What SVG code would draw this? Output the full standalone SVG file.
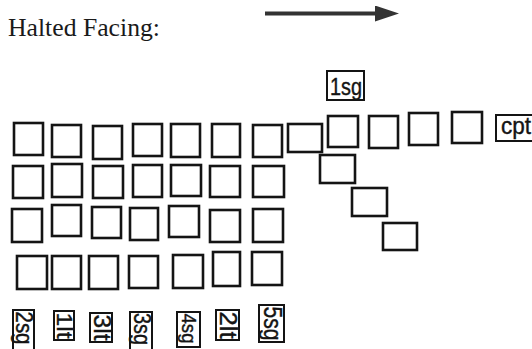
<svg xmlns="http://www.w3.org/2000/svg" width="532" height="349" viewBox="0 0 532 349">
<style>
.b{fill:none;stroke:#141414;stroke-width:2.6}
.l{fill:none;stroke:#141414;stroke-width:2}
.t{font-family:"Liberation Sans",Arial,sans-serif;fill:#141414;stroke:#141414;stroke-width:0.4}
.h{font-family:"Liberation Serif","Times New Roman",serif;font-size:26px;fill:#1a1a1a}
</style>
<defs>
<marker id="ah" markerWidth="6" markerHeight="4" refX="0" refY="2" orient="auto" markerUnits="strokeWidth">
<path d="M0,0 L6,2 L0,4 Z" fill="#333"/>
</marker>
</defs>
<rect width="532" height="349" fill="#fff"/>
<text class="h" x="8" y="36" textLength="152" lengthAdjust="spacingAndGlyphs">Halted Facing:</text>
<g id="connectors">
<line x1="265" y1="13.5" x2="375" y2="13.5" stroke="#333" stroke-width="4" marker-end="url(#ah)"/>
</g>
<g id="row1">
<g id="r1c1"><rect class="b" x="14" y="123" width="29" height="32"/></g>
<g id="r1c2"><rect class="b" x="52" y="125" width="29" height="32"/></g>
<g id="r1c3"><rect class="b" x="93" y="126" width="29" height="33"/></g>
<g id="r1c4"><rect class="b" x="133" y="124" width="29" height="32"/></g>
<g id="r1c5"><rect class="b" x="171" y="124" width="29" height="33"/></g>
<g id="r1c6"><rect class="b" x="212" y="124" width="28" height="33"/></g>
<g id="r1c7"><rect class="b" x="253" y="125" width="29" height="32"/></g>
<g id="r1c8"><rect class="b" x="288" y="124" width="34" height="28"/></g>
<g id="r1c9"><rect class="b" x="328" y="116" width="30" height="31"/></g>
<g id="r1c10"><rect class="b" x="369" y="116" width="29" height="32"/></g>
<g id="r1c11"><rect class="b" x="409" y="113" width="29" height="32"/></g>
<g id="r1c12"><rect class="b" x="452" y="112" width="30" height="31"/></g>
<g id="cpt"><rect class="l" x="496" y="115" width="40" height="26"/><text class="t" x="501" y="134" font-size="24" textLength="30" lengthAdjust="spacingAndGlyphs">cpt</text></g>
</g>
<g id="sg1"><rect class="l" x="327" y="71" width="37" height="29"/><text class="t" x="330" y="95" font-size="24" textLength="32" lengthAdjust="spacingAndGlyphs">1sg</text></g>
<g id="row2">
<g id="r2c1"><rect class="b" x="13" y="166" width="30" height="32"/></g>
<g id="r2c2"><rect class="b" x="52" y="164" width="30" height="33"/></g>
<g id="r2c3"><rect class="b" x="93" y="166" width="30" height="32"/></g>
<g id="r2c4"><rect class="b" x="133" y="165" width="29" height="32"/></g>
<g id="r2c5"><rect class="b" x="171" y="165" width="30" height="31"/></g>
<g id="r2c6"><rect class="b" x="210" y="166" width="30" height="31"/></g>
<g id="r2c7"><rect class="b" x="253" y="166" width="31" height="31"/></g>
</g>
<g id="diagonal">
<g id="d1"><rect class="b" x="320" y="155" width="35" height="28"/></g>
<g id="d2"><rect class="b" x="352" y="188" width="35" height="28"/></g>
<g id="d3"><rect class="b" x="383" y="223" width="34" height="27"/></g>
</g>
<g id="row3">
<g id="r3c1"><rect class="b" x="12" y="209" width="30" height="33"/></g>
<g id="r3c2"><rect class="b" x="52" y="205" width="29" height="31"/></g>
<g id="r3c3"><rect class="b" x="92" y="207" width="29" height="31"/></g>
<g id="r3c4"><rect class="b" x="130" y="208" width="28" height="32"/></g>
<g id="r3c5"><rect class="b" x="169" y="206" width="30" height="31"/></g>
<g id="r3c6"><rect class="b" x="210" y="210" width="30" height="32"/></g>
<g id="r3c7"><rect class="b" x="253" y="209" width="30" height="33"/></g>
</g>
<g id="row4">
<g id="r4c1"><rect class="b" x="17" y="256" width="30" height="33"/></g>
<g id="r4c2"><rect class="b" x="52" y="256" width="29" height="33"/></g>
<g id="r4c3"><rect class="b" x="89" y="256" width="29" height="33"/></g>
<g id="r4c4"><rect class="b" x="129" y="256" width="29" height="32"/></g>
<g id="r4c5"><rect class="b" x="173" y="255" width="30" height="33"/></g>
<g id="r4c6"><rect class="b" x="213" y="252" width="27" height="34"/></g>
<g id="r4c7"><rect class="b" x="252" y="252" width="30" height="33"/></g>
</g>
<g id="labels">
<g id="sg2"><rect class="l" x="13" y="310" width="21" height="40"/><text class="t" transform="rotate(90 23.5 328)" x="23.5" y="335.5" font-size="23" text-anchor="middle" textLength="33" lengthAdjust="spacingAndGlyphs">2sg</text></g>
<g id="lt1"><rect class="l" x="54" y="311" width="20" height="29"/><text class="t" transform="rotate(90 64 325.5)" x="64" y="333" font-size="22" text-anchor="middle" textLength="26" lengthAdjust="spacingAndGlyphs">1lt</text></g>
<g id="lt3"><rect class="l" x="90" y="313" width="22" height="29"/><text class="t" transform="rotate(90 101 327.5)" x="101" y="335" font-size="23" text-anchor="middle" textLength="26" lengthAdjust="spacingAndGlyphs">3lt</text></g>
<g id="sg3"><rect class="l" x="130" y="312" width="22" height="38"/><text class="t" transform="rotate(90 141 329)" x="141" y="336.5" font-size="23" text-anchor="middle" textLength="32" lengthAdjust="spacingAndGlyphs">3sg</text></g>
<g id="sg4"><rect class="l" x="177" y="312" width="23" height="35"/><text class="t" transform="rotate(90 188.5 328.5)" x="188.5" y="335.5" font-size="21" text-anchor="middle" textLength="30" lengthAdjust="spacingAndGlyphs">4sg</text></g>
<g id="lt2"><rect class="l" x="216" y="310" width="23" height="30"/><text class="t" transform="rotate(90 227.5 325)" x="227.5" y="332.5" font-size="23" text-anchor="middle" textLength="27" lengthAdjust="spacingAndGlyphs">2lt</text></g>
<g id="sg5"><rect class="l" x="259" y="305" width="25" height="37"/><text class="t" transform="rotate(90 271.5 323.5)" x="271.5" y="331.5" font-size="25" text-anchor="middle" textLength="34" lengthAdjust="spacingAndGlyphs">5sg</text></g>
</g>
</svg>
